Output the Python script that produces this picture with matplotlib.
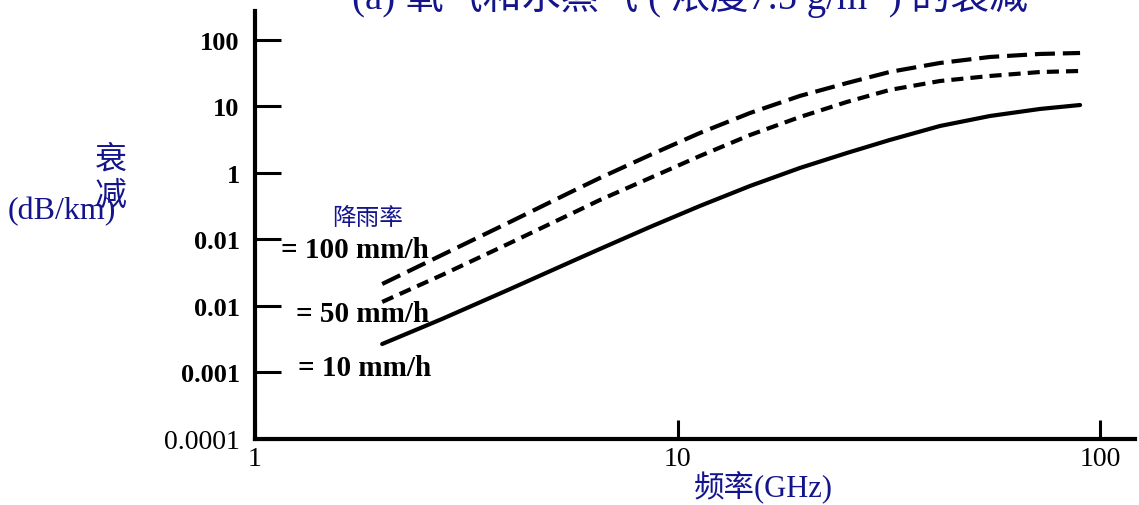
import matplotlib
matplotlib.use('Agg')
import matplotlib.pyplot as plt
from matplotlib.ticker import FixedLocator, FixedFormatter, NullLocator

# ---- data ----
freq_ghz = [2.00, 2.77, 3.97, 5.72, 6.55, 8.61, 11.3, 14.85, 19.5, 25.2,
            31.8, 41.8, 54.9, 72.1, 89.7]
atten_100 = [0.0214, 0.0584, 0.177, 0.554, 0.840, 1.86, 3.99, 7.97, 14.4,
             22.5, 33.0, 45.0, 55.4, 61.5, 63.6]
atten_50 = [0.0115, 0.0292, 0.0855, 0.259, 0.392, 0.840, 1.80, 3.72, 6.94,
            11.7, 17.7, 24.1, 28.7, 32.9, 34.1]
atten_10 = [0.00268, 0.00637, 0.0174, 0.0491, 0.0719, 0.154, 0.319, 0.637,
            1.19, 2.00, 3.13, 5.08, 7.18, 9.16, 10.5]

y_ticks = [1e-4, 1e-3, 1e-2, 1e-1, 1, 10, 100]
y_tick_labels = ['0.0001', '0.001', '0.01', '0.01', '1', '10', '100']
x_ticks = [1, 10, 100]
x_tick_labels = ['1', '10', '100']
rain_labels = ['= 100 mm/h', '= 50 mm/h', '= 10 mm/h']

title_text = '(a) 氧气和水蒸气 ( 浓度7.5 g/m³ ) 的衰减'
NAVY = '#14148c'
SERIF = ['Liberation Serif', 'DejaVu Serif']
MIXED = ['Liberation Serif', 'Noto Sans CJK SC']
CJK = ['Noto Sans CJK SC', 'DejaVu Sans']

W, H = 1139, 506
fig = plt.figure(figsize=(W / 100, H / 100), dpi=100)
ax = fig.add_axes([255 / W, 1 - 440 / H, (1135 - 255) / W, (440 - 12) / H])
ax.set_xscale('log')
ax.set_yscale('log')
ax.set_xlim(1, 121)
ax.set_ylim(1e-4, 272)

ax.plot(freq_ghz, atten_100, color='black', lw=3.0, ls=(0, (4.8, 1.9)),
        dash_capstyle='butt', dash_joinstyle='round')
ax.plot(freq_ghz, atten_50, color='black', lw=3.0, ls=(0, (2.9, 1.7)),
        dash_capstyle='butt', dash_joinstyle='round')
ax.plot(freq_ghz, atten_10, color='black', lw=3.0, ls='-',
        solid_capstyle='round', solid_joinstyle='round')

for s in ['top', 'right']:
    ax.spines[s].set_visible(False)
for s in ['left', 'bottom']:
    ax.spines[s].set_linewidth(3)
    ax.spines[s].set_color('black')

ax.yaxis.set_major_locator(FixedLocator(y_ticks))
ax.yaxis.set_major_formatter(FixedFormatter(y_tick_labels))
ax.yaxis.set_minor_locator(NullLocator())
ax.xaxis.set_major_locator(FixedLocator(x_ticks))
ax.xaxis.set_major_formatter(FixedFormatter(x_tick_labels))
ax.xaxis.set_minor_locator(NullLocator())

ax.tick_params(axis='y', direction='in', length=19, width=2.2, pad=11, colors='black')
ax.tick_params(axis='x', direction='in', length=14, width=2.2, pad=5, colors='black')

for lab in ax.get_yticklabels():
    lab.set_family(SERIF)
    if lab.get_text() == '0.0001':
        lab.set_fontsize(20)
    else:
        lab.set_fontsize(19)
        lab.set_fontweight('bold')
for lab in ax.get_xticklabels():
    lab.set_family(SERIF)
    lab.set_fontsize(20)

def fx(px):
    return px / W

def fy(py):
    return 1 - py / H

# title (partly cut off at the top, as in the reference)
fig.text(fx(690), fy(9), title_text, color=NAVY, fontsize=28,
         family=MIXED, ha='center', va='baseline')

# y axis label
fig.text(fx(111), fy(160), '衰', color=NAVY, fontsize=23, family=CJK,
         ha='center', va='center')
fig.text(fx(111), fy(196), '减', color=NAVY, fontsize=23, family=CJK,
         ha='center', va='center')
fig.text(fx(62), fy(212), '(dB/km)', color=NAVY, fontsize=23, family=SERIF,
         ha='center', va='center')

# x axis label
fig.text(fx(763), fy(488), '频率(GHz)', color=NAVY, fontsize=22, family=MIXED,
         ha='center', va='center')

# rain rate annotations
fig.text(fx(368), fy(219), '降雨率', color=NAVY, fontsize=17, family=CJK,
         ha='center', va='center')
rain_pos = [(355, 251), (363, 315), (365, 369)]
for (px, py), txt in zip(rain_pos, rain_labels):
    fig.text(fx(px), fy(py), txt, color='black', fontsize=21, family=SERIF,
             fontweight='bold', ha='center', va='center')

fig.savefig('out.png', dpi=100, facecolor='white')
